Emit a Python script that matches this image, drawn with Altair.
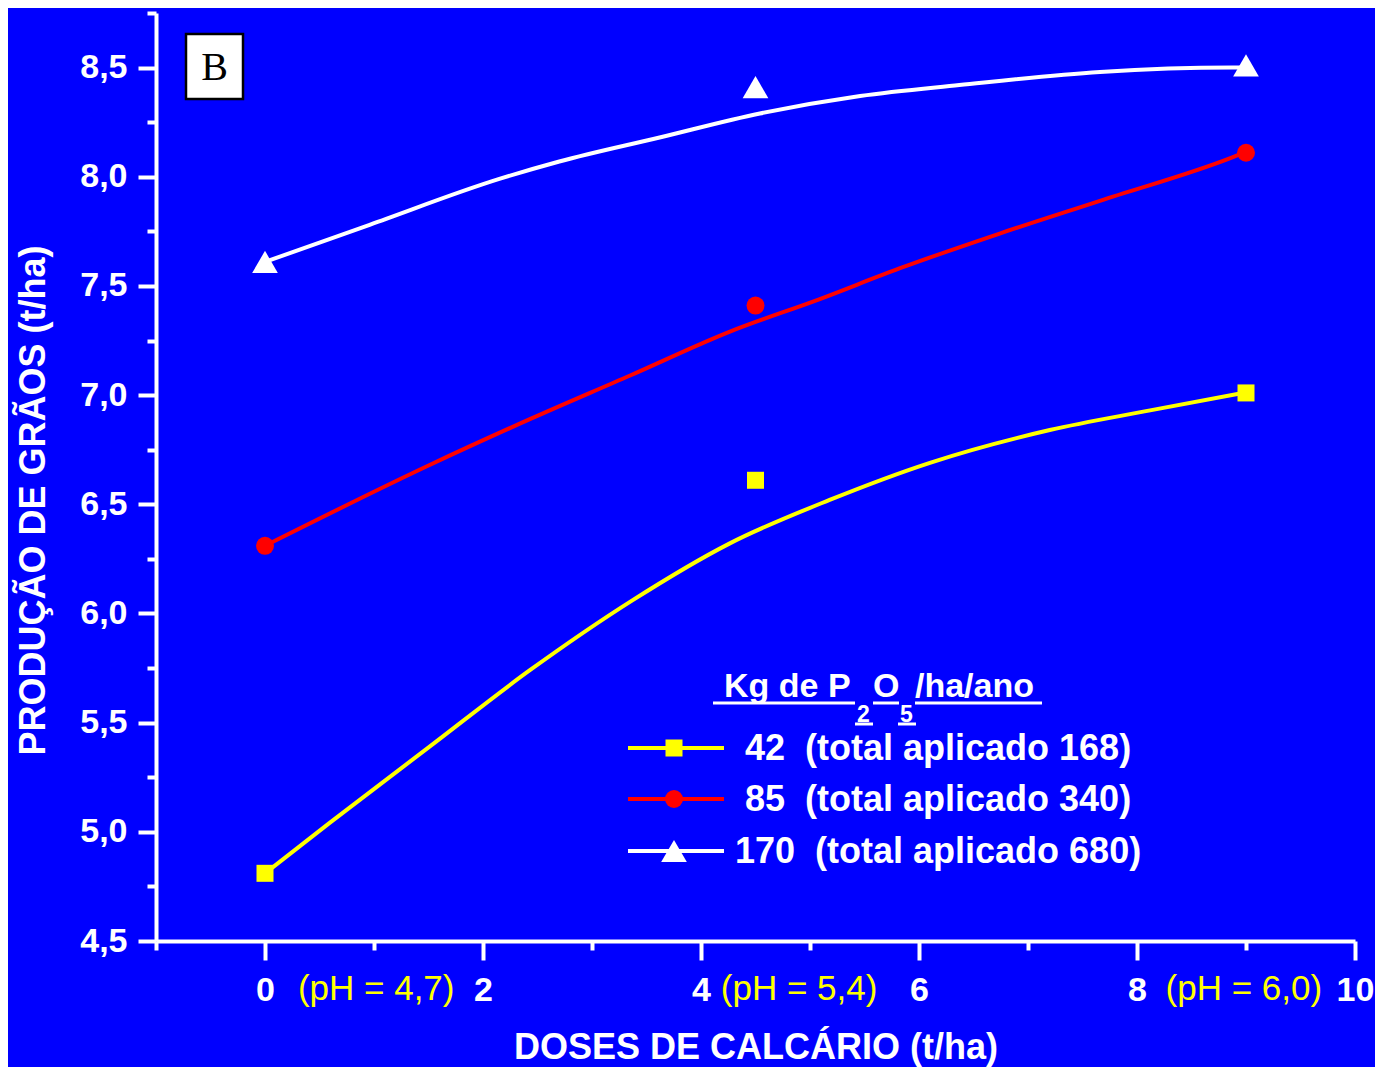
import altair as alt
import pandas as pd

# ---------------- data ----------------
series = ["42", "85", "170"]
series_colors = ["#FFFF00", "#FF0000", "#FFFFFF"]
series_shapes = ["square", "circle", "triangle-up"]
series_sizes = [289, 324, 660]
legend_labels = ["42\u00a0 (total aplicado 168)",
                 "85\u00a0 (total aplicado 340)",
                 "170\u00a0 (total aplicado 680)"]

dose = [0, 4.5, 9]
obs_42 = [4.81, 6.61, 7.01]
obs_85 = [6.31, 7.41, 8.11]
obs_170 = [7.61, 8.41, 8.51]

# fitted curves
fit42_x = [0, 0.59, 1.51, 2.43, 3.37, 4.26, 5.18, 6.10, 7.20, 8.12, 8.97]
fit42_y = [4.81, 5.04, 5.39, 5.74, 6.06, 6.32, 6.52, 6.69, 6.84, 6.93, 7.01]
fit85_x = [0, 1.51, 2.43, 3.35, 4.26, 5.09, 5.82, 6.74, 7.66, 8.88, 8.98]
fit85_y = [6.31, 6.68, 6.89, 7.09, 7.29, 7.44, 7.58, 7.74, 7.89, 8.09, 8.11]
fit170_x = [0, 0.96, 2.15, 2.70, 3.62, 4.54, 5.46, 6.37, 7.66, 8.88, 8.98]
fit170_y = [7.61, 7.78, 7.99, 8.07, 8.18, 8.29, 8.37, 8.42, 8.48, 8.50, 8.50]

ph_labels = ["(pH = 4,7)", "(pH = 5,4)", "(pH = 6,0)"]
ph_at = [1.02, 4.9, 8.98]

x_ticks = list(range(-1, 11))
y_ticks = [4.5 + 0.25 * i for i in range(18)]

# ---------------- tables ----------------
obs = pd.DataFrame({
    "dose": dose * 3,
    "prod": obs_42 + obs_85 + obs_170,
    "series": [s for s in series for _ in dose],
})
fits = pd.concat([
    pd.DataFrame({"dose": fit42_x, "prod": fit42_y, "series": "42"}),
    pd.DataFrame({"dose": fit85_x, "prod": fit85_y, "series": "85"}),
    pd.DataFrame({"dose": fit170_x, "prod": fit170_y, "series": "170"}),
])
ph = pd.DataFrame({"dose": ph_at, "label": ph_labels})
one = pd.DataFrame({"k": [0]})

FONT = "Liberation Sans"
BLUE = "#0000FF"
W, H = 1199, 928

xscale = alt.Scale(domain=[-1, 10], nice=False, zero=False)
yscale = alt.Scale(domain=[4.5, 8.75], nice=False, zero=False)
color = alt.Color("series:N", scale=alt.Scale(domain=series, range=series_colors), legend=None)

x_axis = alt.Axis(
    values=x_ticks,
    labelExpr="(datum.value % 2 == 0 && datum.value >= 0) ? format(datum.value, 'd') : ''",
    tickSize={"condition": {"test": "datum.value % 2 == 0", "value": 19}, "value": 9},
    labelBaseline="alphabetic",
    labelPadding=40,
    labelFlush=False,
    labelOverlap=False,
    labelFontSize=34,
    labelFontWeight="bold",
    labelColor="white",
    labelFont=FONT,
    grid=False,
    domainColor="white", domainWidth=4,
    tickColor="white", tickWidth=4,
    title="DOSES DE CALCÁRIO (t/ha)",
    titleFont=FONT, titleFontSize=36, titleFontWeight="bold", titleColor="white",
    titleX=W / 2, titleY=117, titleAlign="center", titleBaseline="alphabetic",
)
y_axis = alt.Axis(
    values=y_ticks,
    labelExpr="(datum.value % 0.5 == 0) ? replace(format(datum.value, '.1f'), '.', ',') : ''",
    tickSize={"condition": {"test": "datum.value % 0.5 == 0", "value": 18}, "value": 9},
    labelPadding=11,
    labelFlush=False,
    labelOverlap=False,
    labelFontSize=34,
    labelFontWeight="bold",
    labelColor="white",
    labelFont=FONT,
    labelBaseline="middle",
    grid=False,
    domainColor="white", domainWidth=4,
    tickColor="white", tickWidth=4,
    title="PRODUÇÃO DE GRÃOS (t/ha)",
    titleFont=FONT, titleFontSize=36, titleFontWeight="bold", titleColor="white",
    titleX=-112, titleY=487, titleAngle=-90, titleAlign="center", titleBaseline="alphabetic",
)

lines = alt.Chart(fits).mark_line(interpolate="monotone", strokeWidth=4).encode(
    x=alt.X("dose:Q", scale=xscale, axis=x_axis),
    y=alt.Y("prod:Q", scale=yscale, axis=y_axis),
    color=color,
    detail="series:N",
)

points = alt.Chart(obs).mark_point(filled=True, opacity=1, strokeWidth=0).encode(
    x=alt.X("dose:Q", scale=xscale),
    y=alt.Y("prod:Q", scale=yscale),
    color=color,
    shape=alt.Shape("series:N", scale=alt.Scale(domain=series, range=series_shapes), legend=None),
    size=alt.Size("series:N", scale=alt.Scale(type="ordinal", domain=series, range=series_sizes),
                  legend=None),
)

ph_text = alt.Chart(ph).mark_text(
    font=FONT, fontSize=35, color="#FFFF00", align="center", baseline="alphabetic"
).encode(
    x=alt.X("dose:Q", scale=xscale),
    y=alt.value(987),
    text="label:N",
)

# panel letter box
box = alt.Chart(one).mark_rect(fill="white", stroke="black", strokeWidth=2.5).encode(
    x=alt.value(30), x2=alt.value(87), y=alt.value(21), y2=alt.value(86)
)
box_text = alt.Chart(one).mark_text(
    text="B", font="Liberation Serif", fontSize=40, color="black", align="center", baseline="middle"
).encode(x=alt.value(58.5), y=alt.value(55))

# ---------------- manual legend ----------------
legend_layers = []

def txt(s, x, y, size, weight="bold"):
    return alt.Chart(one).mark_text(
        text=s, font=FONT, fontSize=size, fontWeight=weight, color="white",
        align="left", baseline="alphabetic"
    ).encode(x=alt.value(x), y=alt.value(y))

def hline(x1, x2, y, col="white", w=3):
    return alt.Chart(one).mark_rule(color=col, strokeWidth=w).encode(
        x=alt.value(x1), x2=alt.value(x2), y=alt.value(y)
    )

legend_layers += [
    txt("Kg de P", 568, 684, 34),
    txt("2", 701, 709, 23),
    txt("O", 717, 684, 34),
    txt("5", 744, 709, 23),
    txt("/ha/ano", 759, 684, 34),
    hline(557, 699, 690), hline(717, 743, 690), hline(759, 886, 690),
    hline(699, 717, 711), hline(742, 760, 711),
]
row_y = [735, 786, 838]
text_x = [589, 589, 579]
for i, s in enumerate(series):
    legend_layers.append(hline(472, 568, row_y[i], series_colors[i], 4))
    legend_layers.append(
        alt.Chart(one).mark_point(filled=True, opacity=1, strokeWidth=0).encode(
            x=alt.value(518), y=alt.value(row_y[i]),
            shape=alt.value(series_shapes[i]), size=alt.value(series_sizes[i]),
            color=alt.value(series_colors[i]),
        )
    )
    legend_layers.append(
        alt.Chart(one).mark_text(
            text=legend_labels[i], font=FONT, fontSize=36, fontWeight="bold", color="white",
            align="left", baseline="middle"
        ).encode(x=alt.value(text_x[i]), y=alt.value(row_y[i] + 1))
    )

chart = alt.layer(lines, points, ph_text, box, box_text, *legend_layers).properties(
    width=W, height=H,
    autosize=alt.AutoSizeParams(type="none"),
    padding={"left": 148, "top": 5, "right": 20, "bottom": 126},
    background=BLUE,
).configure_view(stroke=None)

chart.save("out.html", embed_options={"renderer": "svg", "actions": False})
